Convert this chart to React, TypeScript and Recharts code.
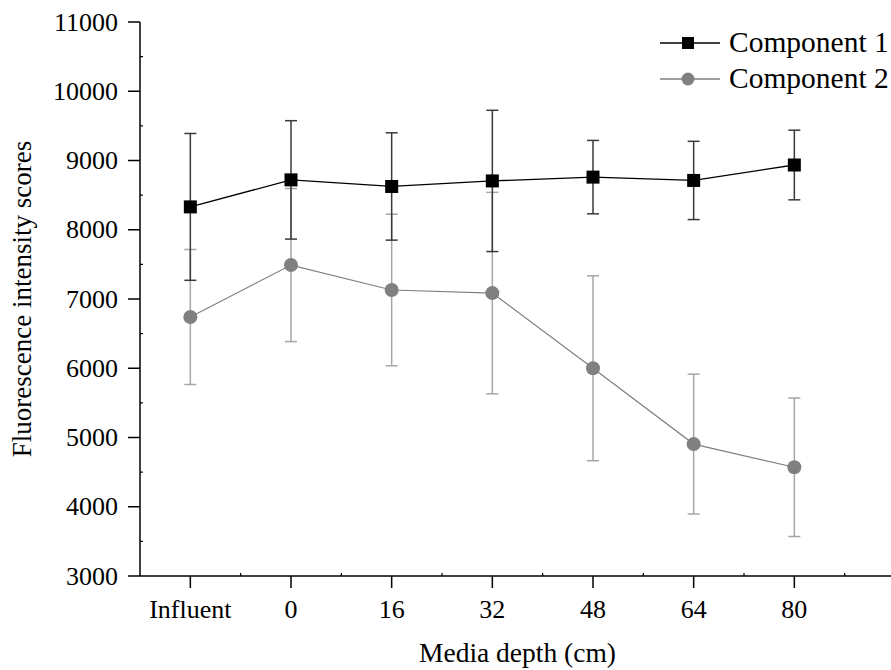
import React from "react";
import { LineChart, Line, XAxis, YAxis, ErrorBar, Legend, Label } from "recharts";

const categories = ["Influent", "0", "16", "32", "48", "64", "80"];
const comp1 = [8330, 8720, 8625, 8705, 8760, 8712, 8935];
const comp1Err = [1060, 855, 775, 1020, 530, 565, 503];
const comp2 = [6740, 7490, 7130, 7085, 6000, 4905, 4570];
const comp2Err = [975, 1105, 1095, 1455, 1335, 1010, 1000];
const yTicks = [3000, 3500, 4000, 4500, 5000, 5500, 6000, 6500, 7000, 7500, 8000, 8500, 9000, 9500, 10000, 10500, 11000];
const xTicks = [0, 0.5, 1, 1.5, 2, 2.5, 3, 3.5, 4, 4.5, 5, 5.5, 6, 6.5];
const topTicks = [0, 1, 2, 3, 4, 5, 6, 7, 8, 9, 10];

const data = categories.map((c, i) => ({
  x: i,
  c1: comp1[i],
  c1e: comp1Err[i],
  c2: comp2[i],
  c2e: comp2Err[i],
}));

const FONT = '"Liberation Serif", "Times New Roman", serif';
const C1 = "#000000";
const C2 = "#808080";
const C1_ERR = "#3a3a3a";
const C2_ERR = "#a6a6a6";

// chart box
const W = 895;
const H = 670;
const TOP = 22;

const YTick = (props: any) => {
  const { x, y, payload } = props;
  const v = payload.value;
  const axisX = x + 22;
  if (v % 1000 === 0) {
    return (
      <g>
        <line x1={axisX - 12} x2={axisX} y1={y} y2={y} stroke="#000" strokeWidth={1.5} />
        <text x={x} y={y} textAnchor="end" dominantBaseline="central" fontFamily={FONT} fontSize={26} fill="#000">
          {v}
        </text>
      </g>
    );
  }
  return <line x1={axisX} x2={axisX + 3} y1={y} y2={y} stroke="#000" strokeWidth={1.2} />;
};

const XTick = (props: any) => {
  const { x, y, payload } = props;
  const v = payload.value;
  const axisY = y - 22;
  if (Number.isInteger(v)) {
    return (
      <g>
        <line x1={x} x2={x} y1={axisY} y2={axisY + 12} stroke="#000" strokeWidth={1.5} />
        <text x={x} y={axisY + 33} textAnchor="middle" dominantBaseline="central" fontFamily={FONT} fontSize={26} fill="#000">
          {categories[v]}
        </text>
      </g>
    );
  }
  return <line x1={x} x2={x} y1={axisY} y2={axisY - 3} stroke="#000" strokeWidth={1.2} />;
};

const TopTick = (props: any) => {
  const { x, y } = props;
  return <line x1={x} x2={x} y1={y} y2={y + 3} stroke="#000" strokeWidth={1.2} />;
};

const SquareDot = (props: any) => {
  const { cx, cy, index } = props;
  if (cx == null || cy == null) return <g key={index} />;
  return <rect key={index} x={cx - 6.5} y={cy - 6.5} width={13} height={13} fill={C1} />;
};

const CircleDot = (props: any) => {
  const { cx, cy, index } = props;
  if (cx == null || cy == null) return <g key={index} />;
  return <circle key={index} cx={cx} cy={cy} r={7} fill={C2} />;
};

const legendItems = [
  { name: "Component 1", color: C1, shape: "square" },
  { name: "Component 2", color: C2, shape: "circle" },
];

const LegendContent = () => (
  <div style={{ fontFamily: FONT, fontSize: 29.5, color: "#000" }}>
    {legendItems.map((it) => (
      <div key={it.name} style={{ display: "flex", alignItems: "center", height: 36 }}>
        <svg width={69} height={20} style={{ display: "block" }}>
          <line x1={0} x2={60} y1={10} y2={10} stroke={it.color} strokeWidth={1.3} />
          {it.shape === "square" ? (
            <rect x={22} y={4} width={12} height={12} fill={it.color} />
          ) : (
            <circle cx={28} cy={10} r={6.5} fill={it.color} />
          )}
        </svg>
        <span style={{ lineHeight: 1, whiteSpace: "nowrap" }}>{it.name}</span>
      </div>
    ))}
  </div>
);

const App: React.FC = () => (
  <div style={{ position: "absolute", left: 0, top: 0, width: 891, height: H, overflow: "hidden", background: "#fff" }}>
    <LineChart width={W} height={H} data={data} margin={{ top: TOP, right: 0, bottom: 0, left: 0 }}>
      <XAxis
        xAxisId="top"
        orientation="top"
        type="number"
        domain={[0, 10]}
        ticks={topTicks}
        height={0}
        tickSize={0}
        tickMargin={0}
        tickLine={false}
        tick={<TopTick />}
        axisLine={{ stroke: "#000", strokeWidth: 1.5 }}
        allowDataOverflow
      />
      <XAxis
        dataKey="x"
        type="number"
        domain={[-0.5, 7]}
        ticks={xTicks}
        interval={0}
        height={H - TOP - 554}
        tickSize={12}
        tickMargin={10}
        tickLine={false}
        tick={<XTick />}
        axisLine={{ stroke: "#000", strokeWidth: 1.5 }}
        allowDataOverflow
      >
        <Label value="Media depth (cm)" position="insideBottom" offset={8} fill="#000" fontSize={27.5} fontFamily={FONT} />
      </XAxis>
      <YAxis
        type="number"
        domain={[3000, 11000]}
        ticks={yTicks}
        interval={0}
        width={140}
        tickSize={12}
        tickMargin={10}
        tickLine={false}
        tick={<YTick />}
        axisLine={{ stroke: "#000", strokeWidth: 1.5 }}
        allowDataOverflow
      >
        <Label
          content={(p: any) => {
            const vb = p.viewBox;
            const cx = vb.x + 22;
            const cy = vb.y + vb.height / 2;
            return (
              <text
                x={cx}
                y={cy}
                transform={`rotate(-90 ${cx} ${cy})`}
                textAnchor="middle"
                dominantBaseline="central"
                fontFamily={FONT}
                fontSize={27}
                fill="#000"
              >
                Fluorescence intensity scores
              </text>
            );
          }}
        />
      </YAxis>
      <Legend
        layout="vertical"
        align="center"
        verticalAlign="middle"
        content={<LegendContent />}
        wrapperStyle={{ position: "absolute", left: 660, top: 25, width: "auto", height: "auto" }}
      />
      <Line
        type="linear"
        dataKey="c2"
        name="Component 2"
        stroke={C2}
        strokeWidth={1.2}
        dot={<CircleDot />}
        activeDot={false}
        isAnimationActive={false}
      >
        <ErrorBar dataKey="c2e" direction="y" width={6} stroke={C2_ERR} strokeWidth={1.5} />
      </Line>
      <Line
        type="linear"
        dataKey="c1"
        name="Component 1"
        stroke={C1}
        strokeWidth={1.3}
        dot={<SquareDot />}
        activeDot={false}
        isAnimationActive={false}
      >
        <ErrorBar dataKey="c1e" direction="y" width={6} stroke={C1_ERR} strokeWidth={1.5} />
      </Line>
    </LineChart>
  </div>
);

export default App;
